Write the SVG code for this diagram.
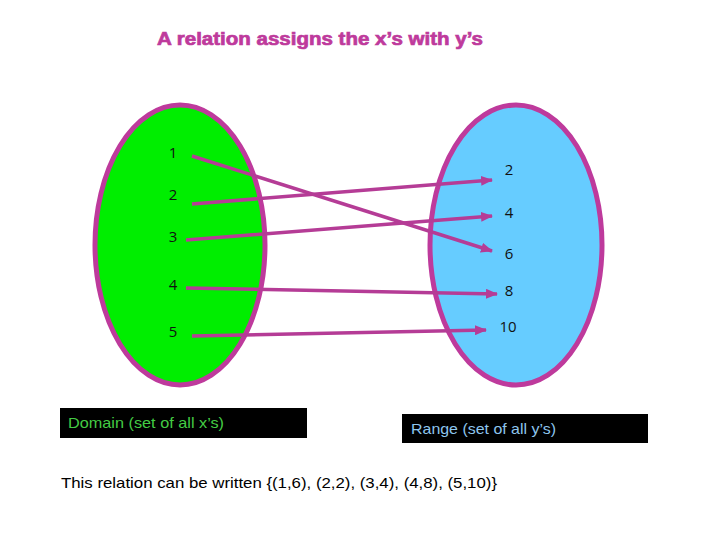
<svg xmlns="http://www.w3.org/2000/svg" width="720" height="540" viewBox="0 0 720 540">
<style>
.title{font-family:"Liberation Sans",Arial,sans-serif;font-weight:bold;font-size:18px;fill:#BE3A9C;stroke:#BE3A9C;stroke-width:0.7}
.num{font-family:"Open Sans","Liberation Sans",sans-serif;font-size:15px;fill:#111;text-anchor:middle}
.set{stroke:#BE3A9C;stroke-width:5}
.conn{stroke:#B53C96;stroke-width:3.5;fill:none}
.lbl{font-family:"Liberation Sans",Arial,sans-serif;font-size:15px}
.body{font-family:"Liberation Sans",Arial,sans-serif;font-size:15px;fill:#000}
</style>
<defs>
<marker id="ah" markerUnits="userSpaceOnUse" markerWidth="12" markerHeight="10" refX="11" refY="5" orient="auto">
<path d="M0,0 L12,5 L0,10 z" fill="#B53C96"/>
</marker>
</defs>
<rect width="720" height="540" fill="#fff"/>
<text class="title" x="157" y="45" textLength="326" lengthAdjust="spacingAndGlyphs">A relation assigns the x’s with y’s</text>
<g id="domain">
<ellipse class="set" cx="180" cy="245" rx="85" ry="140" fill="#00EE00"/>
<text class="num" x="173" y="158">1</text>
<text class="num" x="173" y="200">2</text>
<text class="num" x="173" y="242">3</text>
<text class="num" x="173" y="290">4</text>
<text class="num" x="173" y="337">5</text>
</g>
<g id="range">
<ellipse class="set" cx="516" cy="245" rx="86" ry="140" fill="#66CCFF"/>
<text class="num" x="509" y="175">2</text>
<text class="num" x="509" y="218">4</text>
<text class="num" x="509" y="259">6</text>
<text class="num" x="509" y="296">8</text>
<text class="num" x="508" y="332">10</text>
</g>
<g id="connectors">
<line class="conn" x1="192" y1="156" x2="492" y2="251" marker-end="url(#ah)"/>
<line class="conn" x1="192" y1="204" x2="492" y2="180" marker-end="url(#ah)"/>
<line class="conn" x1="186" y1="240" x2="492" y2="216" marker-end="url(#ah)"/>
<line class="conn" x1="186" y1="288" x2="497" y2="294" marker-end="url(#ah)"/>
<line class="conn" x1="192" y1="336" x2="486" y2="330" marker-end="url(#ah)"/>
</g>
<g id="domain-label">
<rect x="60" y="408" width="247" height="30" fill="#000"/>
<text class="lbl" x="68" y="428" fill="#44CC44" textLength="156" lengthAdjust="spacingAndGlyphs">Domain (set of all x’s)</text>
</g>
<g id="range-label">
<rect x="402" y="414" width="246" height="29" fill="#000"/>
<text class="lbl" x="411" y="434" fill="#8EC6EE" textLength="145" lengthAdjust="spacingAndGlyphs">Range (set of all y’s)</text>
</g>
<text class="body" x="61" y="488" textLength="436" lengthAdjust="spacingAndGlyphs">This relation can be written {(1,6), (2,2), (3,4), (4,8), (5,10)}</text>
</svg>
